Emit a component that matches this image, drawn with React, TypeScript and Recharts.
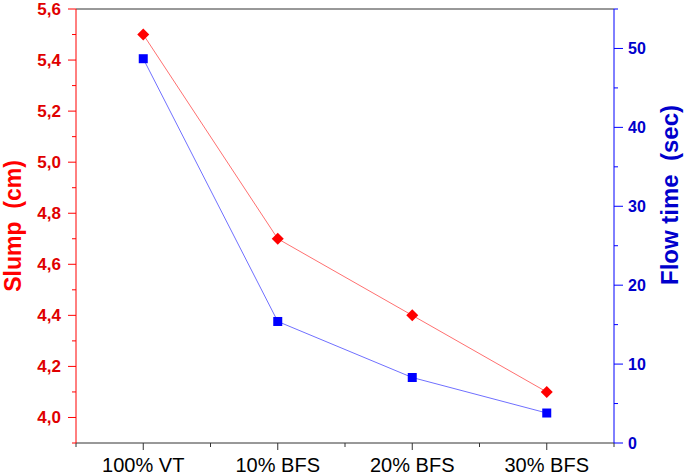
import { Label, Line, LineChart, ReferenceLine, XAxis, YAxis } from "recharts";

const categories = ["100% VT", "10% BFS", "20% BFS", "30% BFS"];
const slump = [5.5, 4.7, 4.4, 4.1];
const flowTime = [48.7, 15.4, 8.3, 3.8];

const xTicks = [0.5, 1, 1.5, 2, 2.5, 3, 3.5, 4, 4.5];
const slumpTicks = [3.9, 4.0, 4.1, 4.2, 4.3, 4.4, 4.5, 4.6, 4.7, 4.8, 4.9, 5.0, 5.1, 5.2, 5.3, 5.4, 5.5, 5.6];
const flowTicks = [0, 5, 10, 15, 20, 25, 30, 35, 40, 45, 50, 55];

const data = categories.map((name, i) => ({
  idx: i + 1,
  name,
  slump: slump[i],
  flow: flowTime[i],
}));

const FONT = "'Liberation Sans', Arial, sans-serif";

function SlumpTick(props: any) {
  const { x, y, payload } = props;
  const v = payload.value;
  const major = Math.round(v * 10) % 2 === 0;
  return (
    <g>
      <line x1={x} x2={x - (major ? 8 : 4)} y1={y} y2={y} stroke="#ff0000" />
      {major && (
        <text x={x - 15} y={y + 6} textAnchor="end" fill="#e00000" fontWeight="bold" fontSize={17} fontFamily={FONT}>
          {v.toFixed(1).replace(".", ",")}
        </text>
      )}
    </g>
  );
}

function FlowTick(props: any) {
  const { x, y, payload } = props;
  const v = payload.value;
  const major = v % 10 === 0;
  return (
    <g>
      <line x1={x} x2={x + (major ? 9 : 4)} y1={y} y2={y} stroke="#0000ff" />
      {major && (
        <text x={x + 14} y={y + 6} textAnchor="start" fill="#0000cc" fontWeight="bold" fontSize={16} fontFamily={FONT}>
          {v}
        </text>
      )}
    </g>
  );
}

function CatTick(props: any) {
  const { x, y, payload } = props;
  const v = payload.value;
  const major = Number.isInteger(v);
  return (
    <g>
      <line x1={x} x2={x} y1={y} y2={y + (major ? 7 : 4)} stroke="#333" />
      {major && (
        <text x={x} y={y + 29} textAnchor="middle" fill="#000" fontSize={20} fontFamily={FONT}>
          {categories[v - 1]}
        </text>
      )}
    </g>
  );
}

function Diamond(props: any) {
  const { cx, cy } = props;
  const s = 6;
  return <path d={`M${cx},${cy - s}L${cx + s},${cy}L${cx},${cy + s}L${cx - s},${cy}Z`} fill="#ff0000" />;
}

function Square(props: any) {
  const { cx, cy } = props;
  const s = 4.5;
  return <rect x={cx - s} y={cy - s} width={s * 2} height={s * 2} fill="#0000ff" />;
}

export default function App() {
  return (
    <div style={{ position: "absolute", left: 0, top: 0, background: "#fff" }}>
      <LineChart width={685} height={476} data={data} margin={{ top: 9, right: 0, bottom: 0, left: 0 }}>
        <XAxis
          dataKey="idx"
          type="number"
          domain={[0.5, 4.5]}
          ticks={xTicks}
          allowDataOverflow
          height={33}
          stroke="#333"
          tickLine={false}
          tickSize={0}
          tickMargin={0}
          tick={<CatTick />}
          interval={0}
        />
        <YAxis
          yAxisId="left"
          domain={[3.9, 5.6]}
          ticks={slumpTicks}
          allowDataOverflow
          width={76}
          stroke="#ff0000"
          tickLine={false}
          tickSize={0}
          tickMargin={0}
          tick={<SlumpTick />}
          interval={0}
        >
          <Label
            content={() => (
              <text
                x={21}
                y={226}
                transform="rotate(-90 21 226)"
                textAnchor="middle"
                fill="#ff0000"
                fontWeight="bold"
                fontSize={23}
                fontFamily={FONT}
                style={{ whiteSpace: "pre" }}
              >
                Slump  (cm)
              </text>
            )}
          />
        </YAxis>
        <YAxis
          yAxisId="right"
          orientation="right"
          domain={[0, 55]}
          ticks={flowTicks}
          allowDataOverflow
          width={71}
          stroke="#0000ff"
          tickLine={false}
          tickSize={0}
          tickMargin={0}
          tick={<FlowTick />}
          interval={0}
        >
          <Label
            content={() => (
              <text
                x={678}
                y={195}
                transform="rotate(-90 678 195)"
                textAnchor="middle"
                fill="#0000cc"
                fontWeight="bold"
                fontSize={24}
                fontFamily={FONT}
                style={{ whiteSpace: "pre" }}
              >
                Flow time  (sec)
              </text>
            )}
          />
        </YAxis>
        <ReferenceLine yAxisId="left" y={5.6} stroke="#333" />
        <Line
          yAxisId="left"
          dataKey="slump"
          stroke="#ff7070"
          strokeWidth={1}
          dot={<Diamond />}
          activeDot={false}
          isAnimationActive={false}
        />
        <Line
          yAxisId="right"
          dataKey="flow"
          stroke="#7070ff"
          strokeWidth={1}
          dot={<Square />}
          activeDot={false}
          isAnimationActive={false}
        />
      </LineChart>
    </div>
  );
}
